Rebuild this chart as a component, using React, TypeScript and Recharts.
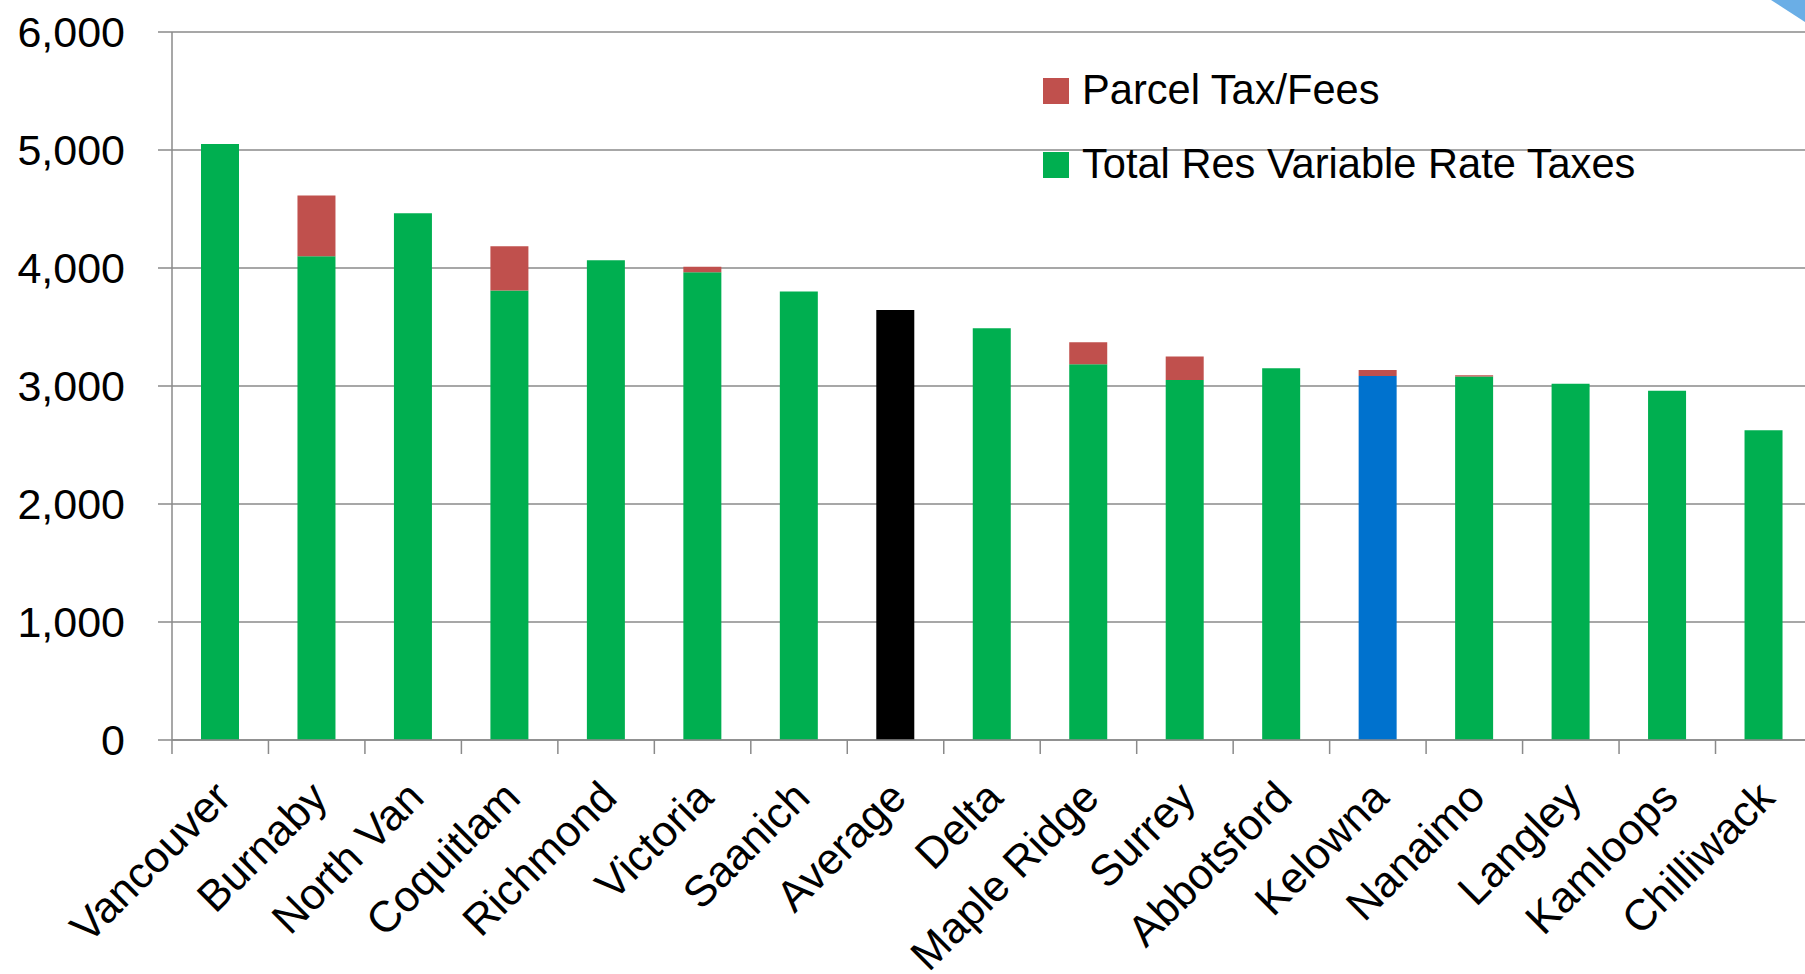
import React from 'react';
import { BarChart, Bar, XAxis, YAxis, CartesianGrid, Cell } from 'recharts';

const categories = ['Vancouver', 'Burnaby', 'North Van', 'Coquitlam', 'Richmond', 'Victoria', 'Saanich', 'Average', 'Delta', 'Maple Ridge', 'Surrey', 'Abbotsford', 'Kelowna', 'Nanaimo', 'Langley', 'Kamloops', 'Chilliwack'];
const variableRateTaxes = [5050, 4100, 4465, 3810, 4065, 3965, 3800, 3645, 3490, 3185, 3050, 3150, 3085, 3080, 3020, 2960, 2625];
const parcelTaxFees = [0, 515, 0, 375, 0, 45, 0, 0, 0, 185, 200, 0, 50, 12, 0, 0, 0];
const yTicks = [0, 1000, 2000, 3000, 4000, 5000, 6000];
const highlightColors: Record<string, string> = { Average: '#000000', Kelowna: '#0072CE' };

const GREEN = '#00AF50';
const RED = '#C0504D';
const GRAY = '#8a8a8a';
const FONT = '"Liberation Sans", Arial, sans-serif';
const HALF_BAND = 48.25;

const data = categories.map((name, i) => ({
  name,
  variable: variableRateTaxes[i],
  parcel: parcelTaxFees[i],
}));

const fmt = (v: number) => v.toLocaleString('en-US');

function XTick(props: any) {
  const { x, y, payload } = props;
  return (
    <g transform={`translate(${x},${y})`}>
      <line x1={-HALF_BAND} y1={0} x2={-HALF_BAND} y2={14} stroke={GRAY} strokeWidth={1.5} />
      <text transform="translate(13,60) rotate(-45)" textAnchor="end" fontSize={43.5} fontFamily={FONT} fill="#000">
        {payload.value}
      </text>
    </g>
  );
}

export default function App() {
  return (
    <div style={{ position: 'absolute', left: 0, top: 0, width: 1805, height: 974, overflow: 'hidden', background: '#fff' }}>
      <BarChart width={1820} height={974} data={data} margin={{ top: 32, right: 8, bottom: 0, left: 0 }} barSize={38}>
        <CartesianGrid vertical={false} stroke={GRAY} strokeWidth={1.5} />
        <XAxis
          dataKey="name"
          interval={0}
          height={234}
          tickSize={0}
          tickMargin={0}
          tick={<XTick />}
          axisLine={{ stroke: GRAY, strokeWidth: 1.5 }}
          tickLine={false}
        />
        <YAxis
          width={172}
          domain={[0, 6000]}
          ticks={yTicks}
          tickFormatter={fmt}
          tickSize={14}
          tickMargin={33}
          axisLine={{ stroke: GRAY, strokeWidth: 1.5 }}
          tickLine={{ stroke: GRAY, strokeWidth: 1.5 }}
          tick={{ fontSize: 43, fontFamily: FONT, fill: '#000' }}
        />
        <Bar dataKey="variable" stackId="a" fill={GREEN} isAnimationActive={false}>
          {data.map((d) => (
            <Cell key={d.name} fill={highlightColors[d.name] || GREEN} />
          ))}
        </Bar>
        <Bar dataKey="parcel" stackId="a" fill={RED} isAnimationActive={false} />
      </BarChart>
      <svg width={1805} height={974} style={{ position: 'absolute', left: 0, top: 0, pointerEvents: 'none' }}>
        <polygon points="1771,0 1805,0 1805,22" fill="#6aaee6" />
        <rect x={1043} y={78} width={26} height={26} fill={RED} />
        <text x={1082} y={104} fontSize={41.6} fontFamily={FONT} fill="#000">Parcel Tax/Fees</text>
        <rect x={1043} y={152} width={26} height={26} fill={GREEN} />
        <text x={1082} y={178} fontSize={41.6} fontFamily={FONT} fill="#000">Total Res Variable Rate Taxes</text>
      </svg>
    </div>
  );
}
